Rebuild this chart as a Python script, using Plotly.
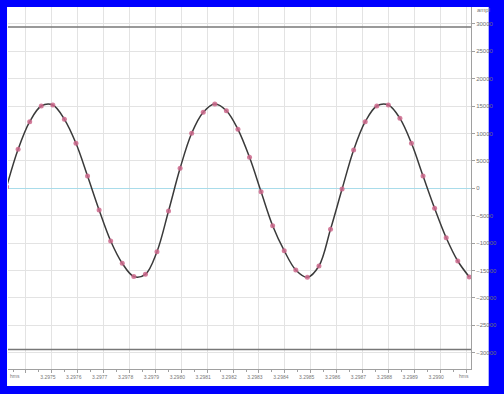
import plotly.graph_objects as go

# sample times (hms axis units)
TIMES = [3.2973249, 3.2973696, 3.2974143, 3.2974590, 3.2975037, 3.2975484, 3.2975931,
         3.2976378, 3.2976825, 3.2977272, 3.2977719, 3.2978166, 3.2978613, 3.2979060,
         3.2979507, 3.2979954, 3.2980401, 3.2980848, 3.2981295, 3.2981742, 3.2982189,
         3.2982636, 3.2983083, 3.2983530, 3.2983977, 3.2984424, 3.2984871, 3.2985318,
         3.2985765, 3.2986212, 3.2986659, 3.2987106, 3.2987553, 3.2988000, 3.2988447,
         3.2988894, 3.2989341, 3.2989788, 3.2990235, 3.2990682, 3.2991129]
# amplitude samples
AMPL = [240, 7114, 12148, 15012, 15194, 12586, 8208, 2244, -3958, -9612, -13680,
        -16088, -15686, -11564, -4140, 3648, 10032, 13862, 15376, 14154, 10762,
        5654, -620, -6822, -11382, -14902, -16234, -14172, -7478, -128, 6986,
        12148, 15012, 15194, 12768, 8208, 2244, -3648, -9011, -13260, -16179]

X_TICKS = [3.2974, 3.2975, 3.2976, 3.2977, 3.2978, 3.2979, 3.2980, 3.2981, 3.2982,
           3.2983, 3.2984, 3.2985, 3.2986, 3.2987, 3.2988, 3.2989, 3.2990, 3.2991]
X_TICK_TEXT = ["", "3.2975", "3.2976", "3.2977", "3.2978", "3.2979", "3.2980", "3.2981",
               "3.2982", "3.2983", "3.2984", "3.2985", "3.2986", "3.2987", "3.2988",
               "3.2989", "3.2990", ""]
LIMIT_LINES = [29400, -29400]
X_RANGE = [3.2973305, 3.2991193]
Y_RANGE = [-32960, 33069]

fig = go.Figure()
fig.add_trace(go.Scatter(
    x=TIMES, y=AMPL, mode="lines+markers",
    line=dict(color="#3a3a3a", width=1.5, shape="spline", smoothing=1),
    marker=dict(size=5, color="rgba(205,105,140,0.85)", line=dict(width=0)),
    showlegend=False,
))

shapes = [dict(type="rect", xref="paper", yref="paper", x0=-0.00212, x1=1.03822,
               y0=-0.04696, y1=1.0, fillcolor="white", line=dict(width=0), layer="below")]
for v in LIMIT_LINES:
    shapes.append(dict(type="line", xref="paper", yref="y", x0=0, x1=1, y0=v, y1=v,
                       line=dict(color="#777777", width=1.5), layer="above"))

fig.update_layout(
    width=504, height=394,
    margin=dict(l=8, r=25, t=7, b=25),
    paper_bgcolor="#0000ff",
    plot_bgcolor="white",
    shapes=shapes,
    font=dict(family="Liberation Sans", color="#777777"),
    xaxis=dict(range=X_RANGE, tickmode="array", tickvals=X_TICKS, ticktext=X_TICK_TEXT,
               showgrid=True, gridcolor="#e3e3e3", gridwidth=1,
               showline=True, linecolor="#a0a0a0", linewidth=1,
               ticks="outside", ticklen=3, tickcolor="#a0a0a0",
               tickfont=dict(size=5, color="#777777"), ticklabelshift=-4,
               minor=dict(ticks="outside", ticklen=2, tickcolor="#a0a0a0",
                          dtick=0.00005, tick0=3.2974, showgrid=False),
               zeroline=False),
    yaxis=dict(range=Y_RANGE, side="right", dtick=5000, tick0=0, tickformat="d",
               showgrid=True, gridcolor="#e3e3e3", gridwidth=1,
               showline=True, linecolor="#a0a0a0", linewidth=1,
               ticks="outside", ticklen=3, tickcolor="#a0a0a0",
               tickfont=dict(size=6, color="#707070"),
               zeroline=True, zerolinecolor="#a9dcea", zerolinewidth=1),
    annotations=[
        dict(text="hms", xref="paper", yref="paper", x=(15 - 8) / 471, y=-0.0193,
             showarrow=False, font=dict(size=5, color="#777777"), xanchor="center", yanchor="middle"),
        dict(text="hms", xref="paper", yref="paper", x=(472 - 8) / 471, y=-0.0193,
             showarrow=False, font=dict(size=5, color="#777777"), xanchor="center", yanchor="middle"),
        dict(text="ampl", xref="paper", yref="paper", x=(483 - 8) / 471, y=(369 - 10) / 362,
             showarrow=False, font=dict(size=6, color="#777777"), xanchor="left", yanchor="middle"),
    ],
)

fig.write_html("out.html", config={"displayModeBar": False},
               post_script="document.body.style.margin='0';document.body.style.overflow='hidden';")
